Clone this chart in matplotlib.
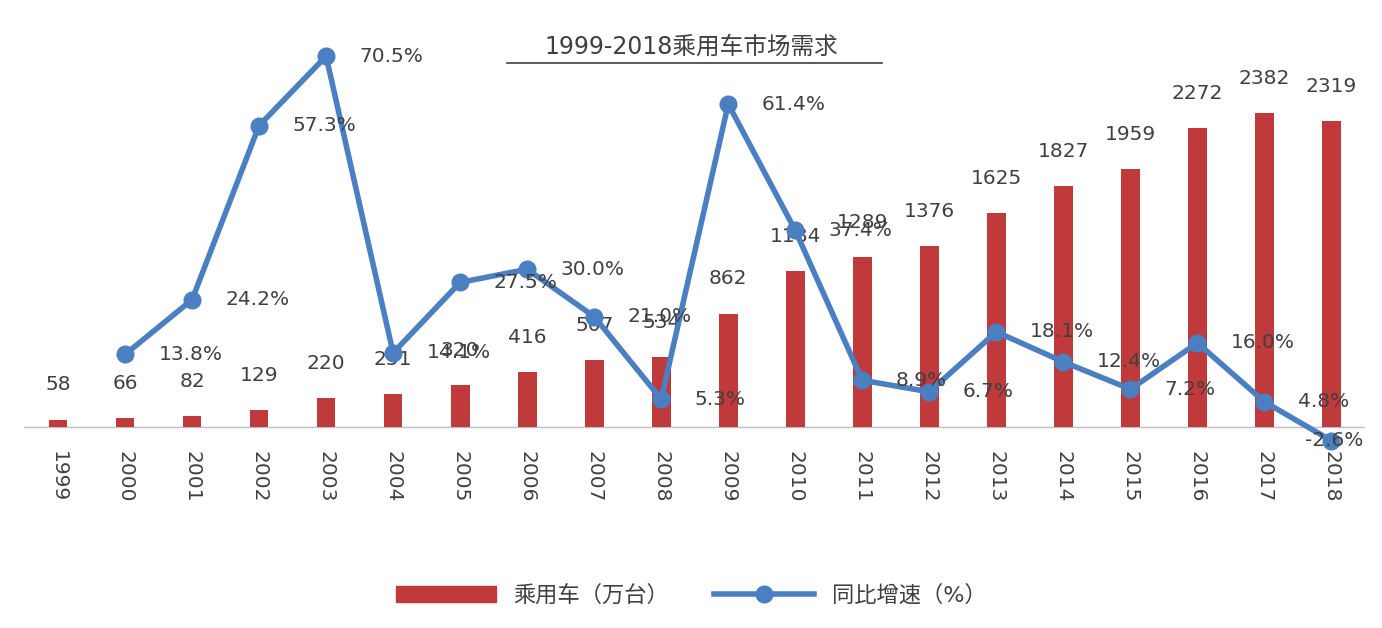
import matplotlib
matplotlib.use("Agg")
import matplotlib.pyplot as plt
from matplotlib import font_manager
from matplotlib.lines import Line2D
from matplotlib.patches import Patch

names = {f.name for f in font_manager.fontManager.ttflist}
cjk = [n for n in ["Noto Sans CJK SC", "Noto Sans CJK JP", "Noto Sans CJK TC", "Noto Sans CJK KR"] if n in names]
if not cjk:
    cjk = sorted(n for n in names if "CJK" in n)
plt.rcParams["font.family"] = ["DejaVu Sans"] + cjk[:1]

years = [str(y) for y in range(1999, 2019)]
sales = [58, 66, 82, 129, 220, 251, 320, 416, 507, 534, 862, 1184, 1289, 1376,
         1625, 1827, 1959, 2272, 2382, 2319]
growth_years = years[1:]
growth = [13.8, 24.2, 57.3, 70.5, 14.1, 27.5, 30.0, 21.0, 5.3, 61.4, 37.4,
          8.9, 6.7, 18.1, 12.4, 7.2, 16.0, 4.8, -2.6]

bar_color = "#c0393b"
line_color = "#4a7fc1"
text_color = "#404040"

fig = plt.figure(figsize=(13.82, 6.28), dpi=100)
ax = fig.add_axes([0.0177, 0.299, 0.97, 0.65])
x = list(range(len(years)))
ax.bar(x, sales, width=0.28, color=bar_color, zorder=2)
ax.set_xlim(-0.5, 19.5)
ax.set_ylim(-99, 2997)
ax.axhline(0, color="#bfbfbf", lw=1, zorder=1)
for i, v in zip(x, sales):
    ax.text(i, v + 190, str(v), ha="center", va="bottom", fontsize=14.5, color=text_color, zorder=5)
ax.set_xticks(x)
ax.set_xticklabels(years, rotation=270, fontsize=14.5, color=text_color)
ax.tick_params(axis="x", length=0, pad=8)
ax.set_yticks([])
for s in ax.spines.values():
    s.set_visible(False)

ax2 = ax.twinx()
gx = x[1:]
ax2.plot(gx, growth, color=line_color, lw=4, marker="o", markersize=12, clip_on=False, zorder=4)
ax2.set_ylim(-2.5, 75.1)
ax2.set_yticks([])
for s in ax2.spines.values():
    s.set_visible(False)
for i, v in zip(gx, growth):
    dx = 0.5 if v >= 0 else -0.4
    ax2.text(i + dx, v, f"{v:.1f}%", ha="left", va="center", fontsize=14.5, color=text_color, zorder=5)

fig.text(0.5, 0.925, "1999-2018乘用车市场需求", ha="center", va="center", fontsize=17,
         color=text_color)
fig.add_artist(Line2D([0.367, 0.638], [0.9, 0.9], color=text_color, lw=1.2))

handles = [Patch(color=bar_color), Line2D([], [], color=line_color, lw=4, marker="o", markersize=12)]
fig.legend(handles, ["乘用车（万台）", "同比增速（%）"], loc="center", bbox_to_anchor=(0.5, 0.052),
           ncol=2, frameon=False, fontsize=16, handlelength=4.5, columnspacing=2,
           labelcolor=text_color)

fig.savefig("out.png", dpi=100)
